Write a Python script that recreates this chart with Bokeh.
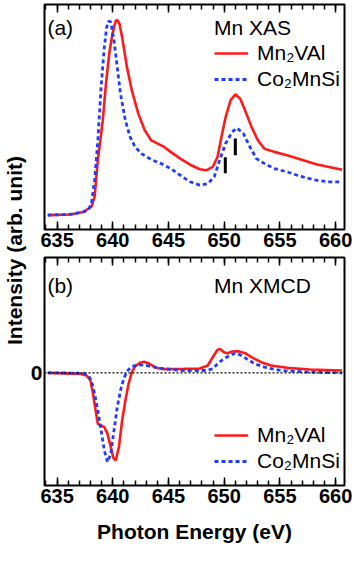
from bokeh.plotting import figure
from bokeh.layouts import row, column
from bokeh.models import (Range1d, LinearAxis, SingleIntervalTicker, FixedTicker,
                          Span, Label, Legend, LegendItem)
from bokeh.embed import file_html
from bokeh.resources import INLINE

# ---------------- data ----------------
# (a) Mn L-edge XAS (normalised, arb. units)
xas_mn2val_e = [634.16, 636.19, 637.35, 638.08, 638.37, 638.66, 638.81, 639.10, 639.39,
                639.68, 639.97, 640.26, 640.40, 640.60, 640.84, 641.27, 641.71, 642.29,
                642.87, 643.45, 644.03, 644.61, 645.19, 646.06, 646.94, 647.81, 648.39,
                648.97, 649.40, 649.69, 650.13, 650.57, 651.00, 651.44, 651.87, 652.45,
                653.03, 653.61, 654.49, 655.65, 657.10, 658.26, 659.42, 660.58]
xas_mn2val_i = [0.064, 0.067, 0.078, 0.101, 0.145, 0.310, 0.367, 0.485, 0.648,
                0.781, 0.870, 0.926, 0.932, 0.914, 0.855, 0.722, 0.618, 0.515,
                0.441, 0.396, 0.382, 0.367, 0.345, 0.315, 0.288, 0.268, 0.263,
                0.278, 0.322, 0.396, 0.500, 0.574, 0.601, 0.581, 0.530, 0.456,
                0.396, 0.359, 0.345, 0.330, 0.308, 0.290, 0.278, 0.266]

xas_co2mnsi_e = [634.16, 636.19, 637.35, 637.79, 638.08, 638.37, 638.66, 638.95, 639.24,
                 639.45, 639.62, 639.82, 640.11, 640.40, 640.69, 641.13, 641.56, 642.00,
                 642.58, 643.45, 644.32, 645.19, 646.06, 646.94, 647.81, 648.53, 649.11,
                 649.69, 650.13, 650.71, 651.15, 651.73, 652.31, 652.89, 653.61, 654.49,
                 655.65, 656.81, 658.26, 659.42, 660.58]
xas_co2mnsi_i = [0.064, 0.067, 0.078, 0.086, 0.115, 0.219, 0.396, 0.633, 0.811,
                 0.899, 0.926, 0.922, 0.840, 0.722, 0.604, 0.485, 0.411, 0.367,
                 0.337, 0.311, 0.293, 0.271, 0.241, 0.212, 0.197, 0.204, 0.234,
                 0.322, 0.382, 0.433, 0.451, 0.426, 0.367, 0.315, 0.293, 0.271,
                 0.256, 0.237, 0.219, 0.212, 0.212]

# marker bars in (a)
marker_e = [650.1, 651.0]
marker_i0 = [0.250, 0.330]
marker_i1 = [0.321, 0.405]

# (b) Mn L-edge XMCD (arb. units)
xmcd_mn2val_e = [634.16, 637.06, 637.64, 637.99, 638.23, 638.46, 638.66, 638.95, 639.24,
                 639.53, 639.82, 640.05, 640.26, 640.55, 640.84, 641.13, 641.42, 641.71,
                 642.00, 642.44, 642.81, 643.31, 643.89, 644.61, 646.36, 647.81, 648.53,
                 648.97, 649.40, 649.61, 649.98, 650.28, 650.71, 651.29, 651.87, 652.45,
                 653.32, 654.20, 655.65, 657.68, 660.58]
xmcd_mn2val_i = [0.00, -0.03, -0.08, -0.23, -0.63, -1.13, -1.53, -1.58, -1.63,
                 -1.83, -2.23, -2.55, -2.63, -2.23, -1.43, -0.83, -0.33, 0.02,
                 0.19, 0.30, 0.33, 0.27, 0.15, 0.11, 0.12, 0.13, 0.22,
                 0.47, 0.69, 0.72, 0.62, 0.59, 0.64, 0.65, 0.59, 0.47,
                 0.32, 0.22, 0.15, 0.10, 0.07]

xmcd_co2mnsi_e = [634.16, 637.35, 637.79, 638.08, 638.37, 638.66, 638.95, 639.24, 639.53,
                  639.82, 640.11, 640.40, 640.69, 640.98, 641.27, 641.71, 642.29, 642.87,
                  643.45, 644.32, 646.36, 648.39, 648.97, 649.55, 650.13, 650.71, 651.00,
                  651.44, 652.02, 652.75, 653.61, 655.07, 657.68, 660.58]
xmcd_co2mnsi_i = [0.00, -0.01, -0.08, -0.23, -0.63, -1.13, -1.73, -2.33, -2.68,
                  -2.43, -1.73, -1.03, -0.53, -0.18, 0.05, 0.19, 0.24, 0.23,
                  0.19, 0.13, 0.07, 0.07, 0.12, 0.32, 0.45, 0.55, 0.59,
                  0.54, 0.42, 0.27, 0.17, 0.07, 0.02, 0.00]

series_labels = ["Mn\u2082VAl", "Co\u2082MnSi"]
x_tick_values = [630, 635, 640, 645, 650, 655, 660, 665]
zero_tick = [0]

# ---------------- style ----------------
FONT = "Liberation Sans"
RED = "#ff1a1a"
BLUE = "#1f3cff"
E_MIN, E_MAX = 633.87, 660.8
LW = 27
FW = 300


def style_x_axis(axis, labels=True):
    axis.ticker = SingleIntervalTicker(interval=5, num_minor_ticks=5)
    axis.axis_line_color = None
    axis.axis_label = None
    axis.axis_label_standoff = 0
    axis.major_tick_in = 8
    axis.major_tick_out = 0
    axis.minor_tick_in = 5
    axis.minor_tick_out = 0
    axis.major_tick_line_width = 1.5
    axis.minor_tick_line_width = 1.5
    axis.major_tick_line_color = "black"
    axis.minor_tick_line_color = "black"
    if labels:
        axis.major_label_text_font = FONT
        axis.major_label_text_font_size = "20px"
        axis.major_label_text_font_style = "bold"
        axis.major_label_text_color = "black"
        axis.major_label_standoff = 3
    else:
        axis.major_label_overrides = {float(v): "" for v in x_tick_values}
        axis.major_label_text_font_size = "1px"
        axis.major_label_standoff = 0


def make_panel(frame_h, y_range, border_top, border_bottom):
    p = figure(frame_width=FW, frame_height=frame_h, x_range=Range1d(E_MIN, E_MAX),
               y_range=y_range, title=None,
               output_backend="svg", toolbar_location=None,
               min_border_left=14, min_border_right=13, min_border_top=border_top,
               min_border_bottom=border_bottom)
    p.grid.visible = False
    p.outline_line_color = "black"
    p.outline_line_width = 2
    p.outline_line_alpha = 1
    bottom = p.below[0]
    style_x_axis(bottom, True)
    top = LinearAxis()
    style_x_axis(top, False)
    p.add_layout(top, "above")
    return p, bottom


def style_legend(lg):
    lg.border_line_color = None
    lg.background_fill_alpha = 0
    lg.label_text_font = FONT
    lg.label_text_font_size = "21px"
    lg.label_text_color = "black"
    lg.glyph_width = 34
    lg.glyph_height = 20
    lg.label_height = 22
    lg.label_standoff = 9
    lg.spacing = 2
    lg.margin = 0
    lg.padding = 0


# ---------------- panel (a) ----------------
pa, pa_x = make_panel(225, Range1d(0, 1), 4, 27)
pa.yaxis.visible = False
ra = pa.line(xas_mn2val_e, xas_mn2val_i, line_color=RED, line_width=2.6)
ba = pa.line(xas_co2mnsi_e, xas_co2mnsi_i, line_color=BLUE, line_width=2.8, line_dash="4 3")
pa.segment(x0=marker_e, y0=marker_i0, x1=marker_e, y1=marker_i1, line_color="black", line_width=3)
lga = Legend(items=[LegendItem(label=series_labels[0], renderers=[ra]),
                    LegendItem(label=series_labels[1], renderers=[ba])],
             title="Mn XAS")
style_legend(lga)
lga.location = (170, 138)
lga.title_text_font = FONT
lga.title_text_font_size = "21px"
lga.title_text_font_style = "normal"
lga.title_text_color = "black"
lga.title_standoff = 1
pa.add_layout(lga)
pa.add_layout(Label(x=634.13, y=0.947, text="(a)", text_baseline="top",
                    text_font=FONT, text_font_size="21px", text_color="black"))

# ---------------- panel (b) ----------------
pb, pb_x = make_panel(228, Range1d(-3.38, 3.46), 1, 75)
pb_x.axis_label = "Photon Energy (eV)"
pb_x.axis_label_text_font = FONT
pb_x.axis_label_text_font_size = "21px"
pb_x.axis_label_text_font_style = "bold"
pb_x.axis_label_text_color = "black"
pb_x.axis_label_standoff = 14
yax = pb.yaxis[0]
yax.ticker = FixedTicker(ticks=zero_tick)
yax.axis_label = None
yax.axis_label_standoff = 0
yax.axis_line_color = None
yax.major_tick_in = 0
yax.major_tick_out = 0
yax.minor_tick_in = 0
yax.minor_tick_out = 0
yax.major_label_text_font = FONT
yax.major_label_text_font_size = "21px"
yax.major_label_text_font_style = "bold"
yax.major_label_text_color = "black"
yax.major_label_standoff = 2
pb.add_layout(Span(location=0, dimension="width", line_color="black",
                   line_dash="2 2", line_width=1.2))
rb = pb.line(xmcd_mn2val_e, xmcd_mn2val_i, line_color=RED, line_width=2.6)
bb = pb.line(xmcd_co2mnsi_e, xmcd_co2mnsi_i, line_color=BLUE, line_width=2.8, line_dash="4 3")
lgb = Legend(items=[LegendItem(label=series_labels[0], renderers=[rb]),
                    LegendItem(label=series_labels[1], renderers=[bb])])
style_legend(lgb)
lgb.location = (170, 12)
pb.add_layout(lgb)
pb.add_layout(Label(x=634.13, y=2.98, text="(b)", text_baseline="top",
                    text_font=FONT, text_font_size="21px", text_color="black"))
pb.add_layout(Label(x=649.09, y=2.96, text="Mn XMCD", text_baseline="top",
                    text_font=FONT, text_font_size="21px", text_color="black"))

# ---------------- shared y label ----------------
lab = figure(width=LW, height=500, x_range=Range1d(0, 1), y_range=Range1d(0, 1),
             output_backend="svg", toolbar_location=None, title=None,
             x_axis_location=None, y_axis_location=None, min_border=0)
lab.outline_line_color = None
lab.grid.visible = False
lab.add_layout(Label(x=0.52, y=0.5, text="Intensity (arb. unit)", angle=90, angle_units="deg",
                     text_align="center", text_baseline="middle", text_font=FONT,
                     text_font_size="21px", text_font_style="bold", text_color="black"))

layout = row(lab, column(pa, pb, spacing=0), spacing=0)
open("out.html", "w").write(file_html(layout, INLINE))
